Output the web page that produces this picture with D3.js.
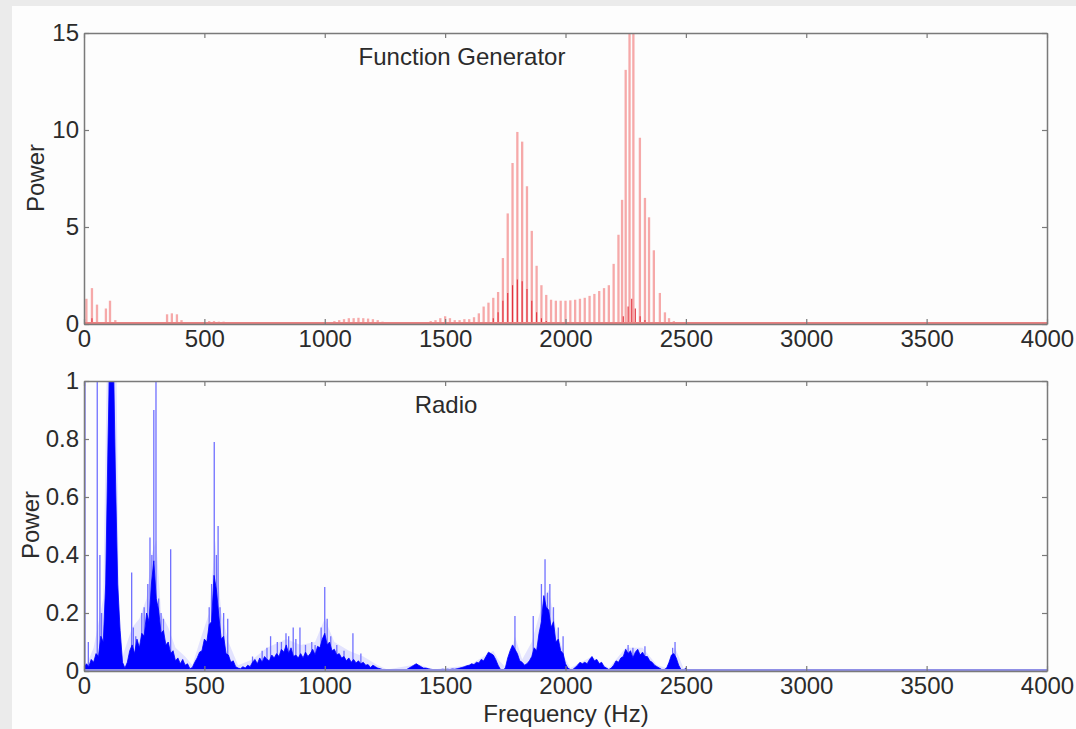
<!DOCTYPE html>
<html>
<head>
<meta charset="utf-8">
<script src="https://cdn.jsdelivr.net/npm/d3@7"></script>
<style>
  body { margin: 0; background: #ebebeb; }
  svg { display: block; }
  text { font-family: Arial, "Liberation Sans", sans-serif; fill: #2b2b2b; }
</style>
</head>
<body>
<svg id="chart" width="1076" height="729"></svg>
<script>
// ---- data ----
const xTicks = [0, 500, 1000, 1500, 2000, 2500, 3000, 3500, 4000];
const genTicks = [0, 5, 10, 15];
const radioTicks = [0, 0.2, 0.4, 0.6, 0.8, 1];

// Function generator: light stems [Hz, power]
const genLight = [
  [10, 1.3], [33, 1.85], [54, 1.0], [91, 0.8], [108, 1.2], [130, 0.2],
  [345, 0.5], [365, 0.55], [386, 0.5], [405, 0.2],
  [520, 0.15], [540, 0.15], [560, 0.12], [580, 0.12], [600, 0.1],
  [1040, 0.15], [1060, 0.2], [1080, 0.25], [1100, 0.3], [1120, 0.3], [1140, 0.32],
  [1160, 0.3], [1180, 0.28], [1200, 0.25], [1220, 0.2], [1240, 0.12], [1260, 0.08],
  [1400, 0.08], [1420, 0.1], [1440, 0.15], [1460, 0.2], [1480, 0.3], [1500, 0.4],
  [1520, 0.3], [1540, 0.2], [1560, 0.2], [1580, 0.25], [1600, 0.25], [1620, 0.35],
  [1640, 0.55], [1660, 0.9], [1680, 1.1], [1700, 1.35], [1720, 1.65], [1740, 3.4],
  [1760, 5.7], [1780, 8.3], [1800, 9.9], [1820, 9.4], [1840, 7.1], [1860, 4.8],
  [1880, 3.0], [1900, 2.0], [1920, 1.5], [1940, 1.25], [1960, 1.2], [1980, 1.2],
  [2000, 1.2], [2020, 1.22], [2040, 1.25], [2060, 1.3], [2080, 1.35], [2100, 1.45],
  [2120, 1.55], [2140, 1.7], [2160, 1.85], [2180, 2.0], [2200, 3.1], [2220, 4.6],
  [2235, 6.4], [2250, 13.1], [2266, 15.5], [2282, 15.5], [2309, 9.6], [2330, 6.5],
  [2347, 5.5], [2367, 3.8], [2392, 1.6], [2413, 0.6], [2430, 0.3], [2450, 0.15],
  [2470, 0.1], [2490, 0.05]
];
// Function generator: darker inner stems
const genDark = [
  [33, 0.3], [1700, 0.3], [1720, 0.6], [1740, 1.2], [1760, 1.6], [1780, 2.0],
  [1800, 2.3], [1820, 2.2], [1840, 1.8], [1860, 1.2], [1880, 0.6], [1900, 0.3],
  [1920, 0.15], [2240, 0.4], [2260, 0.9], [2275, 1.3], [2290, 0.8], [2310, 0.4],
  [2330, 0.2]
];

// Radio: dense spectrum, one value every radioStep Hz from 0 to 2600
const radioStep = 10;
const radioDark = [
  0.01, 0.025, 0.015, 0.04, 0.03, 0.06, 0.05, 0.12, 0.1, 0.3,
  0.8, 1.2, 1.2, 0.7, 0.3, 0.14, 0.03, 0.01, 0.03, 0.07,
  0.09, 0.06, 0.11, 0.08, 0.13, 0.12, 0.2, 0.17, 0.3, 0.38,
  0.25, 0.21, 0.13, 0.14, 0.09, 0.1, 0.06, 0.07, 0.035, 0.045,
  0.025, 0.04, 0.02, 0.025, 0.008, 0.012, 0.03, 0.045, 0.065, 0.07,
  0.11, 0.1, 0.16, 0.17, 0.33, 0.28, 0.19, 0.11, 0.12, 0.06,
  0.055, 0.03, 0.035, 0.015, 0.01, 0.008, 0.015, 0.01, 0.02, 0.015,
  0.03, 0.04, 0.025, 0.045, 0.03, 0.05, 0.04, 0.035, 0.055, 0.045,
  0.06, 0.05, 0.075, 0.065, 0.09, 0.06, 0.08, 0.05, 0.055, 0.045,
  0.06, 0.045, 0.065, 0.05, 0.06, 0.075, 0.055, 0.085, 0.08, 0.11,
  0.13, 0.09, 0.1, 0.07, 0.075, 0.055, 0.06, 0.045, 0.05, 0.035,
  0.045, 0.03, 0.04, 0.028, 0.035, 0.025, 0.03, 0.02, 0.022, 0.012,
  0.02, 0.015, 0.01, 0.008, 0.005, 0.004, 0.003, 0.003, 0.002, 0.002,
  0.002, 0.003, 0.003, 0.004, 0.005, 0.01, 0.015, 0.02, 0.025, 0.02,
  0.015, 0.01, 0.01, 0.008, 0.006, 0.005, 0.004, 0.004, 0.005, 0.006,
  0.005, 0.006, 0.005, 0.007, 0.006, 0.008, 0.01, 0.012, 0.015, 0.018,
  0.02, 0.025, 0.022, 0.03, 0.028, 0.04, 0.035, 0.05, 0.065, 0.06,
  0.055, 0.04, 0.02, 0.005, 0.003, 0.01, 0.045, 0.07, 0.09, 0.075,
  0.06, 0.035, 0.03, 0.02, 0.025, 0.035, 0.05, 0.08, 0.07, 0.13,
  0.17, 0.26, 0.22, 0.21, 0.15, 0.17, 0.1, 0.11, 0.07, 0.06,
  0.025, 0.01, 0.005, 0.005, 0.012, 0.02, 0.03, 0.025, 0.03, 0.025,
  0.04, 0.05, 0.035, 0.04, 0.025, 0.03, 0.015, 0.01, 0.005, 0.01,
  0.02, 0.035, 0.03, 0.045, 0.05, 0.075, 0.06, 0.07, 0.045, 0.065,
  0.075, 0.055, 0.065, 0.05, 0.05, 0.035, 0.03, 0.02, 0.015, 0.01,
  0.005, 0.005, 0.01, 0.03, 0.055, 0.06, 0.045, 0.02, 0.005, 0.003,
  0.01, 0.003, 0.002, 0.002, 0.002, 0.001, 0.001, 0.001, 0, 0, 0
];
// Radio: light haze above the dark fill [Hz, power]
const radioHaze = [
  [0, 0], [40, 0.08], [80, 0.25], [95, 1.05], [135, 1.05], [145, 0.2], [160, 0.05],
  [180, 0.1], [200, 0.15], [230, 0.18], [260, 0.25], [280, 0.4], [300, 0.45],
  [320, 0.2], [350, 0.15], [380, 0.08], [420, 0.05], [450, 0.02], [480, 0.1],
  [520, 0.2], [545, 0.45], [570, 0.2], [600, 0.1], [640, 0.02], [700, 0.04],
  [760, 0.08], [840, 0.11], [900, 0.09], [960, 0.1], [1000, 0.18], [1040, 0.1],
  [1100, 0.07], [1160, 0.05], [1220, 0.02], [1260, 0.005], [1360, 0.02],
  [1400, 0.02], [1450, 0.005], [1600, 0.02], [1700, 0.07], [1720, 0.04],
  [1760, 0.005], [1790, 0.12], [1820, 0.04], [1860, 0.1], [1900, 0.22],
  [1930, 0.28], [1960, 0.15], [2000, 0.04], [2020, 0.01], [2110, 0.05],
  [2180, 0.01], [2250, 0.08], [2320, 0.08], [2380, 0.02], [2420, 0.01],
  [2455, 0.08], [2490, 0.01], [2550, 0]
];
// Radio: isolated spikes [Hz, power]
const radioSpikes = [
  [4, 1.05], [18, 0.1], [55, 1.05], [66, 0.4], [73, 0.2], [105, 1.05], [115, 1.05],
  [198, 0.34], [205, 0.15], [215, 0.12], [240, 0.2], [250, 0.22], [260, 0.18],
  [265, 0.3], [274, 0.46], [282, 0.4], [290, 0.9], [299, 1.05], [310, 0.25],
  [320, 0.2], [330, 0.18], [360, 0.42], [520, 0.22], [530, 0.3], [541, 0.79],
  [550, 0.4], [557, 0.5], [565, 0.22], [580, 0.2], [597, 0.18], [700, 0.05],
  [740, 0.07], [760, 0.08], [775, 0.12], [803, 0.1], [820, 0.1], [839, 0.13],
  [850, 0.12], [869, 0.15], [880, 0.11], [897, 0.15], [920, 0.09], [946, 0.1],
  [960, 0.09], [985, 0.15], [1000, 0.29], [1010, 0.18], [1025, 0.12], [1050, 0.09],
  [1080, 0.07], [1117, 0.13], [1150, 0.06], [1790, 0.19], [1866, 0.19],
  [1900, 0.3], [1915, 0.385], [1925, 0.27], [1935, 0.3], [1950, 0.22],
  [1970, 0.15], [1990, 0.12], [2260, 0.09], [2280, 0.08], [2330, 0.085],
  [2445, 0.08], [2455, 0.1]
];

// ---- drawing ----
const svg = d3.select('#chart');
svg.append('rect').attr('x', 12).attr('y', 6).attr('width', 1064).attr('height', 723).attr('fill', '#fdfdfd');

const axisColor = '#7a7a7a';
const fontSize = 24;

function drawFrame(box, y, yTicks, id) {
  const x = d3.scaleLinear().domain([0, 4000]).range([box.left, box.right]);
  const g = svg.append('g');

  g.append('defs').append('clipPath').attr('id', id)
    .append('rect')
    .attr('x', box.left).attr('y', box.top)
    .attr('width', box.right - box.left).attr('height', box.bottom - box.top);

  const styleAxis = sel => {
    sel.select('.domain').attr('stroke', axisColor).attr('stroke-width', 1.5);
    sel.selectAll('.tick line').attr('stroke', axisColor).attr('stroke-width', 1.2);
    sel.selectAll('.tick text').attr('fill', '#2b2b2b').style('font-size', fontSize + 'px')
      .style('font-family', 'Arial, "Liberation Sans", sans-serif');
  };

  return { x, g, clip: `url(#${id})`, finish: () => {
    g.append('g').attr('transform', `translate(0,${box.bottom})`)
      .call(d3.axisBottom(x).tickValues(xTicks).tickSizeInner(-5).tickSizeOuter(0).tickPadding(6).tickFormat(d3.format('d')))
      .call(styleAxis);
    g.append('g').attr('transform', `translate(0,${box.top})`)
      .call(d3.axisTop(x).tickValues(xTicks).tickSizeInner(-5).tickSizeOuter(0).tickFormat(''))
      .call(styleAxis);
    g.append('g').attr('transform', `translate(${box.left},0)`)
      .call(d3.axisLeft(y).tickValues(yTicks).tickSizeInner(-5).tickSizeOuter(0).tickPadding(5).tickFormat(d => String(d)))
      .call(styleAxis);
    g.append('g').attr('transform', `translate(${box.right},0)`)
      .call(d3.axisRight(y).tickValues(yTicks).tickSizeInner(-5).tickSizeOuter(0).tickFormat(''))
      .call(styleAxis);
    g.selectAll('.domain').attr('fill', 'none');
  }};
}

// Top: Function Generator
const topBox = { left: 84, right: 1047, top: 33, bottom: 324 };
const yGen = d3.scaleLinear().domain([0, 15]).range([topBox.bottom, topBox.top]);
const genPlot = drawFrame(topBox, yGen, genTicks, 'clip-gen');
const genMarks = genPlot.g.append('g').attr('clip-path', genPlot.clip);

genMarks.selectAll('line.light').data(genLight).join('line')
  .attr('class', 'light')
  .attr('x1', d => genPlot.x(d[0])).attr('x2', d => genPlot.x(d[0]))
  .attr('y1', yGen(0)).attr('y2', d => yGen(d[1]))
  .attr('stroke', '#f49a9a').attr('stroke-width', 2.3).attr('stroke-opacity', 0.85);

genMarks.selectAll('line.dark').data(genDark).join('line')
  .attr('class', 'dark')
  .attr('x1', d => genPlot.x(d[0])).attr('x2', d => genPlot.x(d[0]))
  .attr('y1', yGen(0)).attr('y2', d => yGen(d[1]))
  .attr('stroke', '#e2323e').attr('stroke-width', 1.1);

genMarks.append('line')
  .attr('x1', genPlot.x(0)).attr('x2', genPlot.x(4000))
  .attr('y1', yGen(0) - 1).attr('y2', yGen(0) - 1)
  .attr('stroke', '#e88080').attr('stroke-width', 2);

genPlot.finish();

genPlot.g.append('text').attr('x', 462).attr('y', 65).attr('text-anchor', 'middle')
  .style('font-size', fontSize + 'px').text('Function Generator');
genPlot.g.append('text').attr('transform', 'translate(44,178) rotate(-90)').attr('text-anchor', 'middle')
  .style('font-size', fontSize + 'px').text('Power');

// Bottom: Radio
const botBox = { left: 84, right: 1047, top: 381, bottom: 671 };
const yRad = d3.scaleLinear().domain([0, 1]).range([botBox.bottom, botBox.top]);
const radPlot = drawFrame(botBox, yRad, radioTicks, 'clip-radio');
const radMarks = radPlot.g.append('g').attr('clip-path', radPlot.clip);

radMarks.append('path').datum(radioHaze)
  .attr('d', d3.area().x(d => radPlot.x(d[0])).y0(yRad(0)).y1(d => yRad(d[1])))
  .attr('fill', '#c4c4ff').attr('fill-opacity', 0.45);

radMarks.selectAll('line.spike').data(radioSpikes).join('line')
  .attr('class', 'spike')
  .attr('x1', d => radPlot.x(d[0])).attr('x2', d => radPlot.x(d[0]))
  .attr('y1', yRad(0)).attr('y2', d => yRad(d[1]))
  .attr('stroke', '#7070ff').attr('stroke-width', 1.3);

radMarks.append('path').datum(radioDark)
  .attr('d', d3.area().x((d, i) => radPlot.x(i * radioStep)).y0(yRad(0)).y1(d => yRad(d)))
  .attr('fill', '#0000ff').attr('stroke', '#0000ff').attr('stroke-width', 0.8);

radMarks.append('line')
  .attr('x1', radPlot.x(0)).attr('x2', radPlot.x(4000))
  .attr('y1', yRad(0) - 1).attr('y2', yRad(0) - 1)
  .attr('stroke', '#8f8fe6').attr('stroke-width', 2);

radPlot.finish();

radPlot.g.append('text').attr('x', 446).attr('y', 413).attr('text-anchor', 'middle')
  .style('font-size', fontSize + 'px').text('Radio');
radPlot.g.append('text').attr('transform', 'translate(39,525) rotate(-90)').attr('text-anchor', 'middle')
  .style('font-size', fontSize + 'px').text('Power');
radPlot.g.append('text').attr('x', 566).attr('y', 722).attr('text-anchor', 'middle')
  .style('font-size', fontSize + 'px').text('Frequency (Hz)');
</script>
</body>
</html>
